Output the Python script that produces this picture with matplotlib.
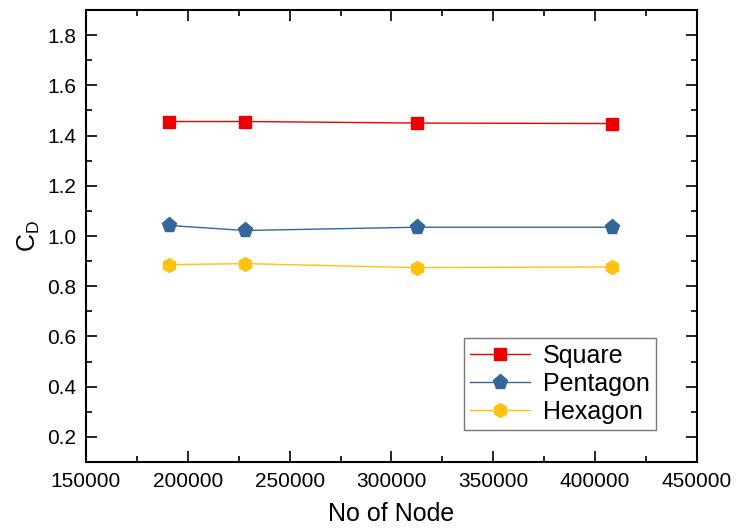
import matplotlib.pyplot as plt
from matplotlib.ticker import MultipleLocator

plt.rcParams['font.family'] = ['Liberation Sans', 'DejaVu Sans']

nodes = [190800, 228000, 312400, 408200]
square = [1.456, 1.456, 1.450, 1.448]
pentagon = [1.042, 1.022, 1.035, 1.035]
hexagon = [0.886, 0.890, 0.874, 0.877]

fig = plt.figure(figsize=(7.36, 5.29), dpi=100)
ax = fig.add_axes([0.1168, 0.1267, 0.8302, 0.8543])

ax.plot(nodes, square, color='#EE0000', lw=1, marker='s', ms=8.5, label='Square')
ax.plot(nodes, pentagon, color='#336699', lw=1, marker='p', ms=11, label='Pentagon')
ax.plot(nodes, hexagon, color='#FFC20E', lw=1, marker='h', ms=10, label='Hexagon')

ax.set_xlim(150000, 450000)
ax.set_ylim(0.1, 1.9)
ax.xaxis.set_major_locator(MultipleLocator(50000))
ax.xaxis.set_minor_locator(MultipleLocator(25000))
ax.yaxis.set_minor_locator(MultipleLocator(0.1))
ax.set_yticks([0.2, 0.4, 0.6, 0.8, 1.0, 1.2, 1.4, 1.6, 1.8])
ax.set_yticklabels(['0.2', '0.4', '0.6', '0.8', '1.0', '1.2', '1.4', '1.6', '1.8'])

ax.tick_params(which='both', direction='in', top=True, right=True, labelsize=15, width=1.2)
ax.tick_params(which='major', length=8, pad=7)
ax.tick_params(which='minor', length=4)
for s in ax.spines.values():
    s.set_linewidth(1.5)

ax.set_xlabel('No of Node', fontsize=18, labelpad=8)
ax.set_ylabel('C$_\\mathregular{D}$', fontsize=18, labelpad=4)

leg = ax.legend(loc='lower right', bbox_to_anchor=(0.933, 0.071), borderaxespad=0,
                fontsize=18, handlelength=2.4, fancybox=False, edgecolor='#555555',
                labelspacing=0.15, borderpad=0.25, handletextpad=0.5)
leg.get_frame().set_linewidth(1)

fig.savefig('out.png', dpi=100)
